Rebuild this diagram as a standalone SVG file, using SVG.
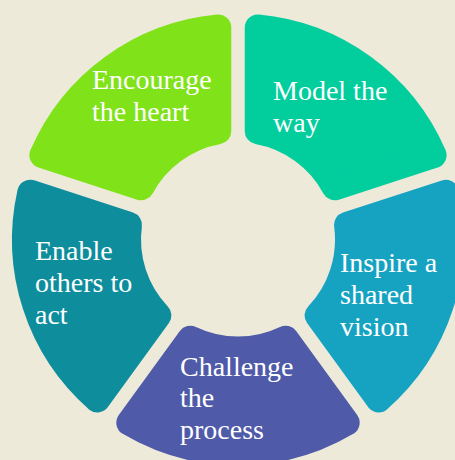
<svg xmlns="http://www.w3.org/2000/svg" xmlns:xlink="http://www.w3.org/1999/xlink" width="455" height="460" viewBox="0 0 455 460">
  <style>
    .seg { stroke-width: 26; stroke-linejoin: round; }
    .lime { fill: #80E219; stroke: #80E219; }
    .mint { fill: #02CD9D; stroke: #02CD9D; }
    .blue { fill: #16A3C2; stroke: #16A3C2; }
    .purple { fill: #4F5AA9; stroke: #4F5AA9; }
    .teal { fill: #0E8E9C; stroke: #0E8E9C; }
    .lbl { font-family: "Liberation Serif", "DejaVu Serif", serif; font-size: 28px; fill: #FFFFFF; }
  </style>
  <defs>
    <path id="segShape" d="M 257.75 27.42 A 213 213 0 0 1 433.60 155.19 L 334.81 187.28 A 110 110 0 0 0 257.75 131.28 Z"/>
  </defs>
  <rect x="0" y="0" width="455" height="460" fill="#EDEADA"/>
  <g id="connectors"/>
  <g id="node-model">
    <use xlink:href="#segShape" href="#segShape" class="seg mint"/>
    <text class="lbl" x="273" y="100">Model the</text>
    <text class="lbl" x="273" y="132">way</text>
  </g>
  <g id="node-inspire">
    <use xlink:href="#segShape" href="#segShape" class="seg blue" transform="rotate(72 238 239.5)"/>
    <text class="lbl" x="340" y="272">Inspire a</text>
    <text class="lbl" x="340" y="304">shared</text>
    <text class="lbl" x="340" y="336">vision</text>
  </g>
  <g id="node-challenge">
    <use xlink:href="#segShape" href="#segShape" class="seg purple" transform="rotate(144 238 239.5)"/>
    <text class="lbl" x="180" y="376">Challenge</text>
    <text class="lbl" x="180" y="407">the</text>
    <text class="lbl" x="180" y="439">process</text>
  </g>
  <g id="node-enable">
    <use xlink:href="#segShape" href="#segShape" class="seg teal" transform="rotate(216 238 239.5)"/>
    <text class="lbl" x="35" y="260">Enable</text>
    <text class="lbl" x="35" y="292">others to</text>
    <text class="lbl" x="35" y="324">act</text>
  </g>
  <g id="node-encourage">
    <use xlink:href="#segShape" href="#segShape" class="seg lime" transform="rotate(288 238 239.5)"/>
    <text class="lbl" x="92" y="89">Encourage</text>
    <text class="lbl" x="92" y="121">the heart</text>
  </g>
</svg>
